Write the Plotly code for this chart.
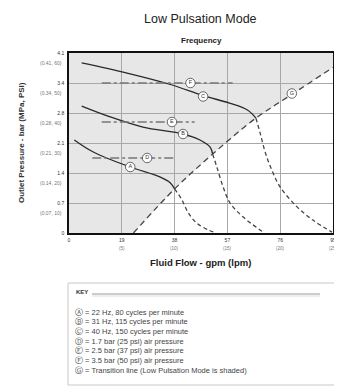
import plotly.graph_objects as go

# ---------------- data ----------------
x_ticks = [0, 5, 10, 15, 20, 25]
x_tick_main = ["0", "19", "38", "57", "76", "95"]
x_tick_sub = ["", "(5)", "(10)", "(15)", "(20)", "(25)"]
y_ticks = [0, 10, 20, 30, 40, 50, 60]
y_tick_main = ["0", "0.7", "1.4", "2.1", "2.8", "3.4", "4.1"]
y_tick_sub = ["", "(0.07, 10)", "(0.14, 20)", "(0.21, 30)", "(0.28, 40)", "(0.34, 50)", "(0.41, 60)"]

# frequency curves (solid part inside low-pulsation region)
a_x = [0.5, 2.3, 5.8, 8.6, 9.6, 10.0]
a_y = [31, 27, 22, 18.7, 16.7, 14.7]
b_x = [1.2, 3.9, 7.0, 10.8, 12.4, 13.35, 13.6]
b_y = [42.3, 38.7, 35.3, 33, 31, 28.7, 26.3]
c_x = [1.2, 5.5, 9.6, 12.7, 15.2, 16.9, 17.7]
c_y = [56.7, 53.3, 49.5, 45.8, 43.3, 41, 38.3]
# dashed continuations
a_dx = [10.0, 10.7, 11.3, 12.1, 13.2, 13.8]
a_dy = [14.7, 11, 6.7, 3.3, 1, 0.2]
b_dx = [13.6, 14.0, 14.6, 15.25, 16.5, 18.4]
b_dy = [26.3, 22, 15.3, 10, 5.3, 0.3]
c_dx = [17.7, 18.1, 18.6, 19.2, 20.0, 21.6, 23.1, 24.9]
c_dy = [38.3, 33.3, 26.7, 21, 15.3, 8.7, 4.3, 0.3]
# transition line G
g_x = [6.1, 10.0, 13.6, 17.7, 21.1, 25.0]
g_y = [0, 14.7, 26.3, 38.3, 46.2, 55.2]
# air pressure lines
d_x = [2.2, 10.0]; d_y = [25, 25]
e_x = [3.1, 11.9]; e_y = [37, 37]
f_x = [3.1, 15.5]; f_y = [50, 50]
# circled labels
lbl_text = ["A", "B", "C", "D", "E", "F", "G"]
lbl_x = [5.8, 10.8, 12.7, 7.4, 9.75, 11.5, 21.1]
lbl_y = [22, 33, 45.5, 25, 37, 50, 46.5]

key_lines = [
    "Ⓐ = 22 Hz, 80 cycles per minute",
    "Ⓑ = 31 Hz, 115 cycles per minute",
    "Ⓒ = 40 Hz, 150 cycles per minute",
    "Ⓓ = 1.7 bar (25 psi) air pressure",
    "Ⓔ = 2.5 bar (37 psi) air pressure",
    "Ⓕ = 3.5 bar (50 psi) air pressure",
    "Ⓖ = Transition line (Low Pulsation Mode is shaded)",
]

FONT = "Liberation Sans, Arial, sans-serif"

# page body has an 8px margin: figure is sized/shifted so the plot lands at screen 69..333 x 53..233
OFF = 8
W, H = 342 - OFF, 386 - OFF
SX0, SX1, SY0, SY1 = 69, 333, 53, 233   # plot area in screen pixels
L, R, T = SX0 - OFF, W - (SX1 - OFF), SY0 - OFF
B = H - (SY1 - OFF)
pw, ph = SX1 - SX0, SY1 - SY0


def px(xs):
    return (xs - SX0) / pw


def py(ys):
    return (SY1 - ys) / ph


fig = go.Figure()

# shaded region (above transition line)
path = "M 0,0 L " + " L ".join(f"{x},{y}" for x, y in zip(g_x, g_y)) + " L 25,60 L 0,60 Z"
fig.add_shape(type="path", path=path, xref="x", yref="y", fillcolor="#e7e7e7",
              line=dict(width=0), layer="below")

line_dark = "#2a2a2a"
dash_col = "#444444"
for xs, ys in [(a_x, a_y), (b_x, b_y), (c_x, c_y)]:
    fig.add_trace(go.Scatter(x=xs, y=ys, mode="lines", line=dict(color=line_dark, width=1.3, shape="spline"),
                             hoverinfo="skip", showlegend=False))
for xs, ys in [(a_dx, a_dy), (b_dx, b_dy), (c_dx, c_dy)]:
    fig.add_trace(go.Scatter(x=xs, y=ys, mode="lines",
                             line=dict(color=dash_col, width=1.3, shape="spline", dash="4px,3px"),
                             hoverinfo="skip", showlegend=False))
fig.add_trace(go.Scatter(x=g_x, y=g_y, mode="lines",
                         line=dict(color=dash_col, width=1.3, shape="spline", dash="6px,4px"),
                         hoverinfo="skip", showlegend=False))
for xs, ys in [(d_x, d_y), (e_x, e_y), (f_x, f_y)]:
    fig.add_trace(go.Scatter(x=xs, y=ys, mode="lines",
                             line=dict(color="#777777", width=1.3, dash="9px,3px,3px,3px"),
                             hoverinfo="skip", showlegend=False))

fig.add_trace(go.Scatter(x=lbl_x, y=lbl_y, mode="markers+text", text=lbl_text,
                         textposition="middle center",
                         textfont=dict(size=5.5, color="#333", family=FONT),
                         marker=dict(size=9.5, color="white", line=dict(color="#444", width=0.8)),
                         hoverinfo="skip", showlegend=False, cliponaxis=False))

axis_common = dict(showgrid=True, gridcolor="#a8a8a8", gridwidth=1, showline=True, linecolor="#111",
                   linewidth=1.5, mirror=True, zeroline=False, ticks="", automargin=False,
                   tickfont=dict(size=5, color="#333", family=FONT))
fig.update_xaxes(range=[0, 25], tickvals=x_ticks, ticktext=x_tick_main, ticklabelstandoff=1, **axis_common)
fig.update_yaxes(range=[0, 60], tickvals=y_ticks, ticktext=y_tick_main, ticklabelstandoff=2, **axis_common)

ann = []
# secondary tick labels (lpm under x ticks, MPa/psi under y ticks)
for xv, t in zip(x_ticks, x_tick_sub):
    if t:
        ann.append(dict(text=t, x=xv, xref="x", y=py(248.5), yref="paper", yanchor="middle",
                        showarrow=False, font=dict(size=4.5, color="#777", family=FONT)))
for yv, t in zip(y_ticks, y_tick_sub):
    if t:
        ann.append(dict(text=t, x=px(63.5), xref="paper", xanchor="right", y=yv, yref="y", yshift=-10,
                        yanchor="middle", showarrow=False, font=dict(size=5, color="#777", family=FONT)))


def text_ann(text, xs, ys, size, color="#222", xanchor="center", angle=0):
    return dict(text=text, x=px(xs), y=py(ys), xref="paper", yref="paper", xanchor=xanchor,
                yanchor="middle", textangle=angle, showarrow=False,
                font=dict(size=size, color=color, family=FONT))


ann.append(text_ann("Low Pulsation Mode", 200, 19, 12.5))
ann.append(text_ann("<b>Frequency</b>", 201, 40, 8))
ann.append(text_ann("<b>Fluid Flow - gpm (lpm)</b>", 200, 262, 9.5))
ann.append(text_ann("<b>Outlet Pressure - bar (MPa, PSI)</b>", 21, 143, 8, color="#333", angle=-90))
ann.append(text_ann("<b>KEY</b>", 74, 292, 6, color="#333", xanchor="left"))
for i, t in enumerate(key_lines):
    ann.append(text_ann(t, 73, 312 + i * 9.7, 7.5, color="#444", xanchor="left"))

fig.add_shape(type="rect", xref="paper", yref="paper", x0=px(68), x1=px(335), y0=py(385), y1=py(283),
              line=dict(color="#c8c8c8", width=1), fillcolor="rgba(0,0,0,0)")
fig.add_shape(type="line", xref="paper", yref="paper", x0=px(92), x1=px(320), y0=py(294), y1=py(294),
              line=dict(color="#bdbdbd", width=1.5))
fig.add_shape(type="line", xref="paper", yref="paper", x0=px(92), x1=px(320), y0=py(296), y1=py(296),
              line=dict(color="#dddddd", width=1))

fig.update_layout(template="none", width=W, height=H, margin=dict(l=L, r=R, t=T, b=B, pad=0),
                  paper_bgcolor="white", plot_bgcolor="white", annotations=ann, showlegend=False)

fig.write_html("out.html")
